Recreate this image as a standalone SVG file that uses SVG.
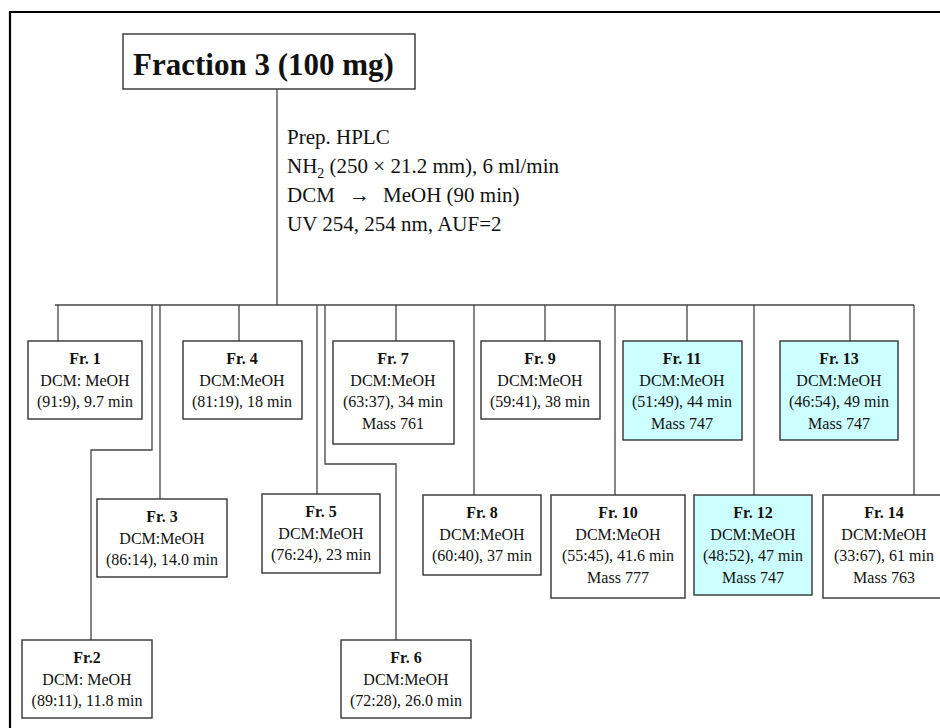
<svg xmlns="http://www.w3.org/2000/svg" width="940" height="728" viewBox="0 0 940 728">
<style>
  .frame{fill:none;stroke:#000;stroke-width:2.2}
  .box{fill:#fff;stroke:#333;stroke-width:1.4}
  .hit{fill:#ccffff;stroke:#333;stroke-width:1.4}
  .conn path{fill:none;stroke:#444;stroke-width:1.3}
  text{font-family:"Liberation Serif","Times New Roman",serif;fill:#111}
  .t{font-size:16px;text-anchor:middle}
  .b{font-weight:bold}
  .title{font-size:31px;font-weight:bold}
  .info{font-size:21px}
</style>
<rect width="940" height="728" fill="#fff"/>
<path class="frame" d="M10,740 V12 H950"/>
<g id="title">
  <rect class="box" x="123" y="34" width="292" height="55"/>
  <text class="title" x="133" y="75">Fraction 3 (100 mg)</text>
</g>
<g id="hplc">
  <text class="info" x="287" y="144">Prep. HPLC</text>
  <text class="info" x="287" y="173">NH<tspan font-size="14" dy="5">2</tspan><tspan dy="-5"> (250 × 21.2 mm), 6 ml/min</tspan></text>
  <text class="info" y="202"><tspan x="287">DCM</tspan><tspan x="349">→</tspan><tspan x="383">MeOH (90 min)</tspan></text>
  <text class="info" x="287" y="231">UV 254, 254 nm, AUF=2</text>
</g>
<g id="connectors" class="conn">
  <path d="M277,89 V305"/>
  <path d="M55,305 H914"/>
  <path d="M58,305 V341"/>
  <path d="M152,305 V450 H91 V640"/>
  <path d="M160,305 V499"/>
  <path d="M239,305 V341"/>
  <path d="M317,305 V494"/>
  <path d="M325,305 V464 H396 V640"/>
  <path d="M396,305 V341"/>
  <path d="M474,305 V495"/>
  <path d="M545,305 V341"/>
  <path d="M615,305 V495"/>
  <path d="M687,305 V341"/>
  <path d="M754,305 V495"/>
  <path d="M850,305 V341"/>
  <path d="M914,305 V495"/>
</g>
<g id="fr1">
  <rect class="box" x="28" y="341" width="114" height="78"/>
  <text class="t b" x="85" y="364">Fr. 1</text>
  <text class="t" x="85" y="386">DCM: MeOH</text>
  <text class="t" x="85" y="407">(91:9), 9.7 min</text>
</g>
<g id="fr2">
  <rect class="box" x="22" y="640" width="130" height="78"/>
  <text class="t b" x="87" y="663">Fr.2</text>
  <text class="t" x="87" y="685">DCM: MeOH</text>
  <text class="t" x="87" y="706">(89:11), 11.8 min</text>
</g>
<g id="fr3">
  <rect class="box" x="97" y="499" width="130" height="78"/>
  <text class="t b" x="162" y="522">Fr. 3</text>
  <text class="t" x="162" y="544">DCM:MeOH</text>
  <text class="t" x="162" y="565">(86:14), 14.0 min</text>
</g>
<g id="fr4">
  <rect class="box" x="183" y="341" width="119" height="78"/>
  <text class="t b" x="242" y="364">Fr. 4</text>
  <text class="t" x="242" y="386">DCM:MeOH</text>
  <text class="t" x="242" y="407">(81:19), 18 min</text>
</g>
<g id="fr5">
  <rect class="box" x="262" y="494" width="118" height="79"/>
  <text class="t b" x="321" y="517">Fr. 5</text>
  <text class="t" x="321" y="539">DCM:MeOH</text>
  <text class="t" x="321" y="560">(76:24), 23 min</text>
</g>
<g id="fr6">
  <rect class="box" x="341" y="640" width="130" height="78"/>
  <text class="t b" x="406" y="663">Fr. 6</text>
  <text class="t" x="406" y="685">DCM:MeOH</text>
  <text class="t" x="406" y="706">(72:28), 26.0 min</text>
</g>
<g id="fr7">
  <rect class="box" x="333" y="341" width="121" height="103"/>
  <text class="t b" x="393" y="364">Fr. 7</text>
  <text class="t" x="393" y="386">DCM:MeOH</text>
  <text class="t" x="393" y="407">(63:37), 34 min</text>
  <text class="t" x="393" y="429">Mass 761</text>
</g>
<g id="fr8">
  <rect class="box" x="423" y="495" width="118" height="80"/>
  <text class="t b" x="482" y="518">Fr. 8</text>
  <text class="t" x="482" y="540">DCM:MeOH</text>
  <text class="t" x="482" y="561">(60:40), 37 min</text>
</g>
<g id="fr9">
  <rect class="box" x="481" y="341" width="119" height="78"/>
  <text class="t b" x="540" y="364">Fr. 9</text>
  <text class="t" x="540" y="386">DCM:MeOH</text>
  <text class="t" x="540" y="407">(59:41), 38 min</text>
</g>
<g id="fr10">
  <rect class="box" x="551" y="495" width="134" height="103"/>
  <text class="t b" x="618" y="518">Fr. 10</text>
  <text class="t" x="618" y="540">DCM:MeOH</text>
  <text class="t" x="618" y="561">(55:45), 41.6 min</text>
  <text class="t" x="618" y="583">Mass 777</text>
</g>
<g id="fr11">
  <rect class="hit" x="623" y="341" width="119" height="99"/>
  <text class="t b" x="682" y="364">Fr. 11</text>
  <text class="t" x="682" y="386">DCM:MeOH</text>
  <text class="t" x="682" y="407">(51:49), 44 min</text>
  <text class="t" x="682" y="429">Mass 747</text>
</g>
<g id="fr12">
  <rect class="hit" x="694" y="495" width="118" height="100"/>
  <text class="t b" x="753" y="518">Fr. 12</text>
  <text class="t" x="753" y="540">DCM:MeOH</text>
  <text class="t" x="753" y="561">(48:52), 47 min</text>
  <text class="t" x="753" y="583">Mass 747</text>
</g>
<g id="fr13">
  <rect class="hit" x="780" y="341" width="118" height="99"/>
  <text class="t b" x="839" y="364">Fr. 13</text>
  <text class="t" x="839" y="386">DCM:MeOH</text>
  <text class="t" x="839" y="407">(46:54), 49 min</text>
  <text class="t" x="839" y="429">Mass 747</text>
</g>
<g id="fr14">
  <rect class="box" x="823" y="495" width="122" height="103"/>
  <text class="t b" x="884" y="518">Fr. 14</text>
  <text class="t" x="884" y="540">DCM:MeOH</text>
  <text class="t" x="884" y="561">(33:67), 61 min</text>
  <text class="t" x="884" y="583">Mass 763</text>
</g>
</svg>
